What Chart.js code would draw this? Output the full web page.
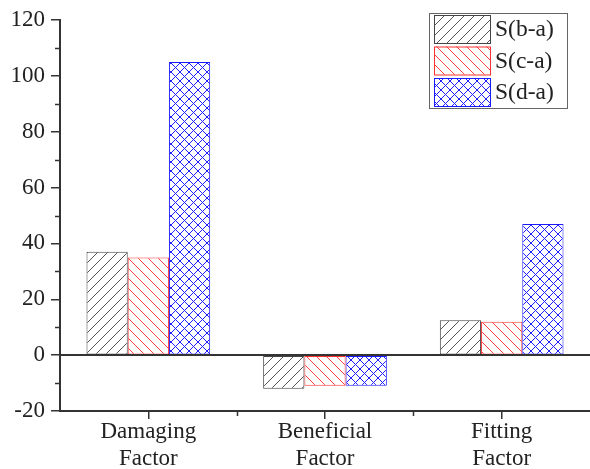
<!DOCTYPE html>
<html>
<head>
<meta charset="utf-8">
<script src="https://cdn.jsdelivr.net/npm/chart.js@4/dist/chart.umd.min.js"></script>
<style>
  html, body { margin: 0; padding: 0; background: #fff; }
  #wrap { width: 590px; height: 469px; }
</style>
</head>
<body>
<div id="wrap"><canvas id="chart"></canvas></div>
<script>
const CATEGORIES = [['Damaging', 'Factor'], ['Beneficial', 'Factor'], ['Fitting', 'Factor']];
const SERIES_LABELS = ['S(b-a)', 'S(c-a)', 'S(d-a)'];
const S_BA = [37, -12, 12.5];
const S_CA = [35, -11, 12];
const S_DA = [105, -11, 47];
const Y_MIN = -20, Y_MAX = 120, Y_STEP = 20;

const FONT = '"Liberation Serif", "Times New Roman", serif';
const AXIS = '#333';

// hatch tiles -> CanvasPattern
function hatch(color, dirs, size) {
  const c = document.createElement('canvas');
  c.width = c.height = size;
  const g = c.getContext('2d');
  g.fillStyle = '#fff';
  g.fillRect(0, 0, size, size);
  g.strokeStyle = color;
  g.lineWidth = 1;
  g.beginPath();
  for (const x0 of [-size, 0, size]) {
    if (dirs.includes('/')) { g.moveTo(x0, size); g.lineTo(x0 + size, 0); }
    if (dirs.includes('\\')) { g.moveTo(x0, 0); g.lineTo(x0 + size, size); }
  }
  g.stroke();
  return g.createPattern(c, 'repeat');
}

const COLORS = ['#444', '#ff3030', '#1a1aff'];
const PATTERNS = [hatch('#555', '/', 10), hatch('#ff4040', '\\', 10), hatch('#2020ff', '/\\', 9)];

const extras = {
  id: 'extras',
  afterDatasetsDraw(chart) {
    const { ctx, chartArea: a, scales: { x, y } } = chart;
    ctx.save();
    // zero line
    const y0 = Math.round(y.getPixelForValue(0));
    ctx.strokeStyle = AXIS;
    ctx.lineWidth = 2;
    ctx.beginPath();
    ctx.moveTo(a.left, y0);
    ctx.lineTo(a.right, y0);
    ctx.stroke();
    // minor ticks
    ctx.lineWidth = 1.5;
    ctx.beginPath();
    for (let v = Y_MIN + Y_STEP / 2; v < Y_MAX; v += Y_STEP) {
      const py = Math.round(y.getPixelForValue(v)) + 0.5;
      ctx.moveTo(a.left - 5, py);
      ctx.lineTo(a.left, py);
    }
    const w = (a.right - a.left) / CATEGORIES.length;
    for (let i = 1; i < CATEGORIES.length; i++) {
      const px = Math.round(a.left + i * w) + 0.5;
      ctx.moveTo(px, a.bottom);
      ctx.lineTo(px, a.bottom + 5);
    }
    ctx.stroke();
    ctx.restore();
  },
  afterDraw(chart) {
    const { ctx } = chart;
    const bx = 429, by = 13, bw = 138, bh = 95;
    ctx.save();
    ctx.fillStyle = '#fff';
    ctx.fillRect(bx, by, bw, bh);
    ctx.strokeStyle = '#666';
    ctx.lineWidth = 1;
    ctx.strokeRect(bx + 0.5, by + 0.5, bw, bh);
    ctx.font = '23.5px ' + FONT;
    ctx.textBaseline = 'middle';
    chart.data.datasets.forEach((ds, i) => {
      const sy = by + 2 + i * 31.5;
      ctx.fillStyle = ds.backgroundColor;
      ctx.fillRect(434, sy, 56, 28);
      ctx.strokeStyle = ds.borderColor;
      ctx.strokeRect(434.5, sy + 0.5, 56, 28);
      ctx.fillStyle = '#222';
      ctx.fillText(ds.label, 495, sy + 15);
    });
    ctx.restore();
  }
};

new Chart(document.getElementById('chart'), {
  type: 'bar',
  data: {
    labels: CATEGORIES,
    datasets: [S_BA, S_CA, S_DA].map((d, i) => ({
      label: SERIES_LABELS[i],
      data: d,
      backgroundColor: PATTERNS[i],
      borderColor: COLORS[i],
      borderWidth: 1,
      borderSkipped: false,
      categoryPercentage: 0.7,
      barPercentage: 1.0
    }))
  },
  options: {
    responsive: true,
    maintainAspectRatio: false,
    animation: false,
    layout: { padding: { top: 20, right: 0, left: 0, bottom: 0 } },
    plugins: { legend: { display: false }, tooltip: { enabled: false } },
    scales: {
      x: {
        grid: { offset: false, drawOnChartArea: false, drawTicks: true, tickLength: 8, color: AXIS, lineWidth: 1.5 },
        border: { color: AXIS, width: 2 },
        ticks: { color: '#222', font: { family: FONT, size: 23, lineHeight: 1.15 }, padding: 0, maxRotation: 0, autoSkip: false },
        afterFit(s) { s.height = 58; }
      },
      y: {
        min: Y_MIN,
        max: Y_MAX,
        grid: { drawOnChartArea: false, drawTicks: true, tickLength: 9, color: AXIS, lineWidth: 1.5 },
        border: { color: AXIS, width: 2 },
        ticks: { stepSize: Y_STEP, color: '#222', font: { family: FONT, size: 23 }, padding: 6 },
        afterFit(s) { s.width = 60; }
      }
    }
  },
  plugins: [extras]
});
</script>
</body>
</html>
